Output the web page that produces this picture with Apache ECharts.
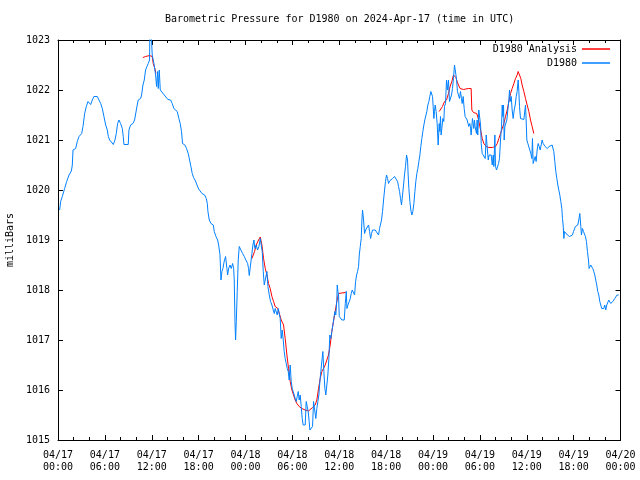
<!DOCTYPE html>
<html>
<head>
<meta charset="utf-8">
<script src="https://cdn.jsdelivr.net/npm/echarts@6/dist/echarts.min.js"></script>
<style>html,body{margin:0;padding:0;background:#fff}#c{width:640px;height:480px}</style>
</head>
<body>
<div id="c"></div>
<script>
// Hours since 2024-04-17 00:00 UTC
const blueHours = [0.21,0.34,0.55,0.85,1.11,1.41,1.71,1.83,1.92,2.26,2.47,2.69,3.03,3.20,3.41,3.62,3.84,4.01,4.18,4.39,4.60,4.82,5.03,5.24,5.46,5.67,5.88,6.10,6.31,6.44,6.61,6.86,7.08,7.29,7.46,7.63,7.80,8.01,8.23,8.35,8.44,8.99,9.08,9.29,9.59,9.80,10.02,10.14,10.27,10.57,10.70,10.87,11.04,11.21,11.38,11.55,11.72,11.78,11.80,12.02,12.06,12.28,12.40,12.49,12.62,12.75,12.83,12.96,13.09,13.34,13.60,13.85,14.07,14.41,14.62,14.83,15.05,15.26,15.47,15.64,15.81,15.94,16.24,16.45,16.67,16.84,17.01,17.18,17.35,17.60,17.79,18.00,18.21,18.43,18.77,18.98,19.11,19.19,19.36,19.58,19.88,20.00,20.22,20.43,20.56,20.73,20.86,20.98,21.11,21.28,21.45,21.62,21.71,21.84,22.01,22.18,22.35,22.48,22.56,22.65,22.73,22.82,22.94,23.07,23.20,23.41,23.63,23.84,24.05,24.27,24.39,24.48,24.73,24.82,24.95,25.08,25.20,25.37,25.54,25.72,25.89,26.01,26.14,26.27,26.40,26.61,26.74,26.87,27.04,27.21,27.38,27.55,27.68,27.80,27.93,28.06,28.19,28.32,28.44,28.57,28.70,28.83,28.95,29.08,29.21,29.34,29.47,29.59,29.72,29.85,29.98,30.11,30.23,30.36,30.49,30.62,30.75,30.87,31.00,31.13,31.26,31.38,31.64,31.77,31.90,32.02,32.15,32.24,32.45,32.58,32.71,32.88,33.00,33.13,33.26,33.39,33.52,33.64,33.77,33.90,34.03,34.16,34.28,34.41,34.54,34.67,34.79,34.92,35.05,35.18,35.31,35.43,35.56,35.69,35.74,35.83,35.91,36.00,36.13,36.34,36.64,36.77,36.90,36.98,37.11,37.28,37.41,37.53,37.66,37.83,37.96,38.09,38.22,38.34,38.47,38.56,38.69,38.81,38.90,38.98,39.11,39.24,39.37,39.50,39.62,39.75,39.88,40.01,40.13,40.26,40.60,40.82,41.03,41.16,41.29,41.41,41.54,41.67,41.80,41.92,42.05,42.18,42.31,42.44,42.56,42.69,42.82,42.95,43.08,43.20,43.33,43.46,43.59,43.72,43.84,43.97,44.10,44.23,44.35,44.48,44.61,44.74,44.82,44.91,45.04,45.16,45.29,45.42,45.55,45.68,45.80,45.93,46.06,46.19,46.32,46.44,46.57,46.70,46.83,46.95,47.08,47.21,47.34,47.47,47.59,47.72,47.85,47.94,48.02,48.11,48.19,48.28,48.40,48.53,48.66,48.79,48.87,48.96,49.04,49.13,49.26,49.38,49.47,49.60,49.73,49.85,49.98,50.11,50.24,50.37,50.49,50.62,50.75,50.88,51.00,51.13,51.26,51.39,51.52,51.64,51.73,51.86,51.99,52.11,52.24,52.37,52.50,52.58,52.71,52.79,52.88,52.97,53.05,53.14,53.22,53.31,53.39,53.48,53.56,53.65,53.73,53.86,54.00,54.09,54.17,54.30,54.43,54.55,54.68,54.81,54.94,55.07,55.19,55.32,55.45,55.58,55.71,55.79,55.92,56.00,56.13,56.26,56.39,56.51,56.64,56.77,56.86,56.94,57.03,57.11,57.20,57.32,57.45,57.58,57.71,57.79,57.88,58.01,58.13,58.26,58.39,58.52,58.65,58.77,58.90,58.99,59.07,59.20,59.41,59.63,59.75,59.84,59.92,60.01,60.14,60.27,60.39,60.52,60.65,60.73,60.82,60.95,61.08,61.20,61.33,61.46,61.59,61.72,61.84,61.97,62.10,62.23,62.35,62.48,62.61,62.74,62.87,62.99,63.12,63.25,63.38,63.46,63.59,63.72,63.85,63.98,64.10,64.23,64.36,64.49,64.57,64.66,64.75,64.83,64.96,65.08,65.21,65.34,65.47,65.60,65.72,65.85,65.98,66.11,66.23,66.40,66.53,66.66,66.79,66.92,67.00,67.13,67.26,67.38,67.51,67.64,67.77,67.90,67.98,68.07,68.19,68.32,68.45,68.58,68.71,68.83,68.96,69.09,69.22,69.35,69.47,69.60,69.73,69.86,69.98,70.11,70.24,70.37,70.50,70.62,70.75,70.88,71.01,71.14,71.26,71.39,71.56,71.77];
const bluePressure = [1019.60,1019.77,1019.87,1020.03,1020.17,1020.30,1020.38,1020.50,1020.80,1020.83,1020.97,1021.07,1021.13,1021.27,1021.53,1021.67,1021.77,1021.80,1021.71,1021.80,1021.87,1021.90,1021.87,1021.80,1021.73,1021.63,1021.47,1021.30,1021.20,1021.07,1021.00,1020.97,1020.91,1021.00,1021.13,1021.33,1021.40,1021.33,1021.23,1021.07,1020.91,1020.91,1021.20,1021.30,1021.33,1021.40,1021.43,1021.70,1021.80,1021.83,1021.90,1022.10,1022.20,1022.40,1022.47,1022.53,1022.60,1022.62,1023.60,1023.60,1022.70,1022.53,1022.40,1022.30,1022.07,1022.37,1022.03,1022.40,1022.00,1022.00,1021.90,1021.89,1021.81,1021.80,1021.73,1021.63,1021.60,1021.57,1021.43,1021.33,1021.17,1020.93,1020.90,1020.83,1020.73,1020.60,1020.47,1020.33,1020.25,1020.18,1020.10,1020.02,1020.00,1019.93,1019.90,1019.83,1019.73,1019.57,1019.40,1019.33,1019.30,1019.17,1019.07,1019.00,1018.90,1018.71,1018.20,1018.37,1018.43,1018.58,1018.67,1018.43,1018.30,1018.43,1018.50,1018.43,1018.53,1018.43,1018.20,1017.37,1017.00,1017.37,1017.97,1018.60,1018.87,1018.80,1018.73,1018.67,1018.60,1018.53,1018.43,1018.29,1018.29,1018.73,1018.90,1019.00,1018.83,1018.90,1018.80,1018.87,1019.03,1018.90,1018.77,1018.37,1018.10,1018.10,1018.37,1018.07,1017.90,1017.77,1017.70,1017.60,1017.53,1017.63,1017.60,1017.50,1017.63,1017.60,1017.43,1017.03,1017.20,1017.00,1016.77,1016.63,1016.53,1016.43,1016.37,1016.20,1016.50,1016.17,1016.03,1015.97,1015.90,1015.83,1015.77,1015.87,1015.97,1015.80,1015.90,1015.67,1015.43,1015.30,1015.30,1015.77,1015.67,1015.57,1015.37,1015.20,1015.20,1015.27,1015.77,1015.77,1015.43,1015.63,1015.77,1015.90,1016.17,1016.37,1016.37,1016.77,1016.37,1016.03,1015.90,1016.10,1016.30,1016.63,1017.10,1017.03,1017.17,1017.30,1017.43,1017.57,1017.50,1017.80,1018.10,1017.97,1017.90,1017.47,1017.43,1017.40,1017.40,1017.73,1017.97,1017.63,1017.70,1017.77,1017.83,1017.93,1018.00,1017.97,1017.90,1018.17,1018.30,1018.37,1018.47,1018.70,1018.87,1019.03,1019.40,1019.60,1019.40,1019.13,1019.20,1019.23,1019.17,1019.30,1019.17,1019.03,1019.13,1019.20,1019.20,1019.17,1019.10,1019.23,1019.27,1019.40,1019.57,1019.80,1020.00,1020.17,1020.30,1020.23,1020.13,1020.18,1020.20,1020.22,1020.23,1020.23,1020.27,1020.30,1020.23,1020.17,1020.07,1019.97,1019.83,1019.70,1019.90,1020.10,1020.30,1020.47,1020.70,1020.60,1020.30,1020.03,1019.77,1019.60,1019.50,1019.57,1019.73,1019.97,1020.17,1020.33,1020.43,1020.57,1020.70,1020.87,1021.03,1021.17,1021.30,1021.40,1021.43,1021.57,1021.70,1021.77,1021.87,1021.97,1022.00,1021.87,1021.67,1021.43,1021.57,1021.70,1021.57,1021.33,1020.90,1021.33,1021.17,1021.47,1021.10,1021.23,1021.43,1021.37,1021.67,1021.73,1022.20,1022.00,1022.20,1021.77,1021.80,1021.90,1022.03,1022.23,1022.50,1022.51,1022.23,1021.97,1021.90,1021.83,1021.97,1021.83,1021.73,1021.87,1021.63,1021.47,1021.43,1021.40,1021.37,1021.27,1021.33,1021.27,1021.10,1021.27,1021.43,1021.33,1021.23,1021.40,1021.27,1021.30,1021.13,1021.40,1021.10,1021.60,1021.63,1021.30,1020.93,1020.73,1020.70,1020.73,1020.63,1021.10,1021.10,1020.60,1020.70,1020.67,1020.70,1020.50,1020.70,1020.47,1021.10,1020.47,1020.40,1020.43,1020.53,1020.63,1021.00,1021.27,1021.70,1021.47,1021.70,1021.00,1021.27,1021.30,1021.40,1021.60,1021.80,1022.00,1021.77,1021.87,1021.60,1021.43,1021.60,1021.70,1021.87,1021.97,1022.20,1021.97,1021.67,1021.43,1021.41,1021.41,1021.41,1021.70,1021.40,1021.00,1020.93,1020.90,1020.80,1020.73,1020.63,1021.03,1020.53,1020.50,1020.67,1020.57,1020.80,1020.93,1020.87,1020.80,1020.90,1021.00,1020.93,1020.90,1020.87,1020.90,1020.83,1020.80,1020.87,1020.90,1020.91,1020.90,1020.91,1020.77,1020.57,1020.37,1020.23,1020.10,1020.00,1019.90,1019.77,1019.63,1019.43,1019.30,1019.03,1019.17,1019.20,1019.13,1019.10,1019.10,1019.07,1019.10,1019.03,1019.10,1019.17,1019.20,1019.27,1019.23,1019.30,1019.40,1019.53,1019.27,1019.10,1019.23,1019.17,1019.13,1019.07,1018.97,1018.77,1018.60,1018.43,1018.40,1018.50,1018.47,1018.43,1018.37,1018.30,1018.20,1018.10,1017.97,1017.90,1017.77,1017.70,1017.63,1017.60,1017.63,1017.70,1017.60,1017.70,1017.73,1017.80,1017.77,1017.73,1017.70,1017.77,1017.80,1017.83,1017.87,1017.90,1017.90];

// Analysis series (null = gap)
const redHours = [10.87,11.21,11.72,12.06,12.19,12.40,12.53,12.60,
  24.82,25.16,25.37,25.67,25.89,26.10,26.31,26.53,26.74,26.95,27.16,27.38,27.59,27.80,28.14,28.57,28.87,29.08,29.30,29.51,29.72,29.94,30.15,30.36,30.57,30.87,31.21,31.64,32.07,32.28,32.58,32.92,33.13,33.35,33.56,33.77,33.98,34.20,34.41,34.62,34.84,35.05,35.26,35.48,35.69,35.91,36.77,36.90,37.00,
  48.79,49.04,49.21,49.47,49.73,49.98,50.19,50.41,50.62,50.75,50.92,51.09,51.26,51.47,51.69,51.90,52.20,52.54,52.88,52.97,53.18,53.60,53.66,53.79,53.96,54.13,54.30,54.51,54.64,54.81,55.15,55.58,56.00,56.22,56.43,56.64,56.86,57.07,57.28,57.50,57.71,57.92,58.13,58.35,58.56,58.77,58.90,59.07,59.24,59.41,59.63,59.84,60.05,60.27,60.48,60.69,60.90];
const redPressure = [1022.65,1022.67,1022.69,1022.67,1022.53,1022.43,1022.33,null,
  1018.63,1018.77,1018.90,1019.00,1019.06,1018.90,1018.63,1018.43,1018.30,1018.13,1018.03,1017.87,1017.77,1017.67,1017.63,1017.40,1017.30,1017.03,1016.70,1016.43,1016.17,1016.00,1015.90,1015.80,1015.73,1015.67,1015.63,1015.60,1015.58,1015.62,1015.65,1015.70,1015.80,1016.03,1016.23,1016.37,1016.43,1016.50,1016.60,1016.70,1016.90,1017.17,1017.37,1017.57,1017.77,1017.93,1017.95,1017.97,null,
  1021.57,1021.60,1021.67,1021.77,1021.80,1021.93,1022.07,1022.17,1022.30,1022.33,1022.25,1022.17,1022.10,1022.03,1022.00,1022.01,1022.02,1022.03,1022.03,1021.60,1021.55,1021.53,1021.51,1021.43,1021.30,1021.17,1021.03,1020.93,1020.90,1020.87,1020.85,1020.85,1020.87,1020.93,1021.03,1021.13,1021.23,1021.33,1021.47,1021.60,1021.77,1021.93,1022.03,1022.13,1022.23,1022.30,1022.37,1022.30,1022.23,1022.10,1021.97,1021.83,1021.70,1021.57,1021.40,1021.27,1021.13];

const xTickLabels = ['04/17\n00:00','04/17\n06:00','04/17\n12:00','04/17\n18:00','04/18\n00:00','04/18\n06:00','04/18\n12:00','04/18\n18:00','04/19\n00:00','04/19\n06:00','04/19\n12:00','04/19\n18:00','04/20\n00:00'];
const titleText = 'Barometric Pressure for D1980 on 2024-Apr-17 (time in UTC)';
const yAxisName = 'milliBars';
const seriesNames = ['D1980 Analysis', 'D1980'];

const FONT = 'DejaVu Sans Mono';
const blueData = blueHours.map((h, i) => [h, bluePressure[i]]);
const redData = redHours.map((h, i) => [h, redPressure[i]]);

const chart = echarts.init(document.getElementById('c'), null, {renderer: 'canvas'});
const tickCommon = {show: true, inside: true, length: 5, lineStyle: {color: '#000', width: 1}};
const minorCommon = {show: true, splitNumber: 3, length: 3, lineStyle: {color: '#000', width: 1}};
chart.setOption({
  animation: false,
  backgroundColor: '#fff',
  title: {
    text: titleText, left: 165, top: 14, padding: 0,
    textStyle: {fontFamily: FONT, fontSize: 10, fontWeight: 'normal', color: '#000'}
  },
  legend: [
    {data: [seriesNames[0]], right: 30, top: 44, padding: 0, align: 'right', icon: 'rect', itemWidth: 28, itemHeight: 1.5,
     textStyle: {fontFamily: FONT, fontSize: 10, color: '#000'}},
    {data: [seriesNames[1]], right: 30, top: 58, padding: 0, align: 'right', icon: 'rect', itemWidth: 28, itemHeight: 1.5,
     textStyle: {fontFamily: FONT, fontSize: 10, color: '#000'}}
  ],
  grid: {left: 58, right: 19.5, top: 40, bottom: 40, containLabel: false, outerBoundsMode: 'none'},
  xAxis: [
    {type: 'value', min: 0, max: 72, interval: 6, position: 'bottom',
     axisLine: {show: true, onZero: false, lineStyle: {color: '#000', width: 1}},
     axisTick: tickCommon, minorTick: minorCommon, splitLine: {show: false},
     axisLabel: {fontFamily: FONT, fontSize: 10, color: '#000', lineHeight: 12, margin: 9,
       formatter: v => xTickLabels[Math.round(v / 6)]}},
    {type: 'value', min: 0, max: 72, interval: 6, position: 'top',
     axisLine: {show: true, onZero: false, lineStyle: {color: '#000', width: 1}},
     axisTick: tickCommon, minorTick: minorCommon, splitLine: {show: false}, axisLabel: {show: false}}
  ],
  yAxis: [
    {type: 'value', min: 1015, max: 1023, interval: 1, position: 'left',
     name: yAxisName, nameLocation: 'middle', nameRotate: 90, nameGap: 38,
     nameTextStyle: {fontFamily: FONT, fontSize: 10, color: '#000'},
     axisLine: {show: true, onZero: false, lineStyle: {color: '#000', width: 1}},
     axisTick: tickCommon, splitLine: {show: false},
     axisLabel: {fontFamily: FONT, fontSize: 10, color: '#000', margin: 8, formatter: v => String(v)}},
    {type: 'value', min: 1015, max: 1023, interval: 1, position: 'right',
     axisLine: {show: true, onZero: false, lineStyle: {color: '#000', width: 1}},
     axisTick: tickCommon, splitLine: {show: false}, axisLabel: {show: false}}
  ],
  series: [
    {name: seriesNames[0], type: 'line', data: redData, xAxisIndex: 0, yAxisIndex: 0,
     showSymbol: false, symbol: 'none', connectNulls: false, clip: true, z: 2,
     color: '#ff0000', lineStyle: {color: '#ff0000', width: 1}},
    {name: seriesNames[1], type: 'line', data: blueData, xAxisIndex: 0, yAxisIndex: 0,
     showSymbol: false, symbol: 'none', clip: true, z: 3,
     color: '#0080ff', lineStyle: {color: '#0080ff', width: 1}}
  ]
});
</script>
</body>
</html>
